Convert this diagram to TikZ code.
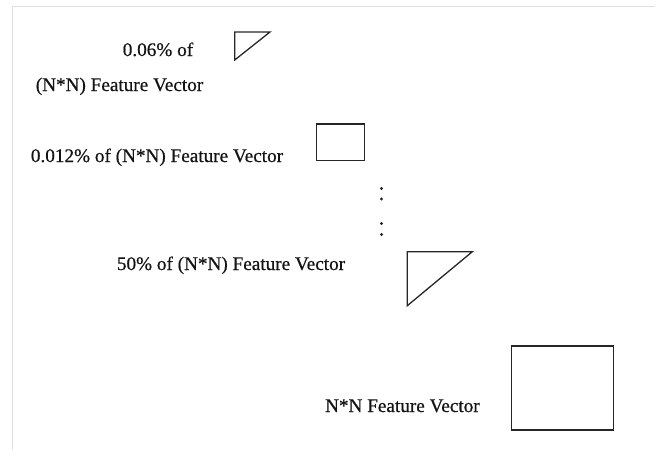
\documentclass[tikz,border=0pt]{standalone}
\usepackage{fontspec}
\setmainfont{Liberation Serif}
\newfontfamily\lblfont{Liberation Serif}[FakeBold=0.6]
\begin{document}
\begin{tikzpicture}[x=1pt,y=-1pt,
  lbl/.style={anchor=base, inner sep=0pt, font=\lblfont\fontsize{19.2}{23}\selectfont, text=black!92},
  shp/.style={draw=black!85, line width=1.3pt, line join=miter},
  dotmark/.style={circle, fill=black!85, inner sep=0pt, minimum size=3.2pt}]
\useasboundingbox (0,0) rectangle (659,450);
\draw[black!12, line width=1pt] (12,450) -- (12,6) -- (655,6);
% labels
\node[lbl] (t1a) at (158,56) {0.06\% of};
\node[lbl] (t1b) at (119.5,91) {(N*N) Feature Vector};
\node[lbl] (t2) at (157,162) {0.012\% of (N*N) Feature Vector};
\node[lbl] (t3) at (231,270) {50\% of (N*N) Feature Vector};
\node[lbl] (t4) at (402.4,412) {N*N Feature Vector};
% shapes
\draw[shp] (234.7,32) -- (270,32) -- (234.7,60) -- cycle;
\draw[shp] (316.7,124) rectangle (364.3,160.7);
\draw[shp] (407.3,251.7) -- (472.3,251.7) -- (407.3,305.7) -- cycle;
\draw[shp] (511.7,346) rectangle (613.3,430);
% dots
\node[dotmark] (d1) at (381.5,188.5) {};
\node[dotmark] (d2) at (381.5,199) {};
\node[dotmark] (d3) at (381.5,223.5) {};
\node[dotmark] (d4) at (381.5,234.5) {};
\end{tikzpicture}
\end{document}
